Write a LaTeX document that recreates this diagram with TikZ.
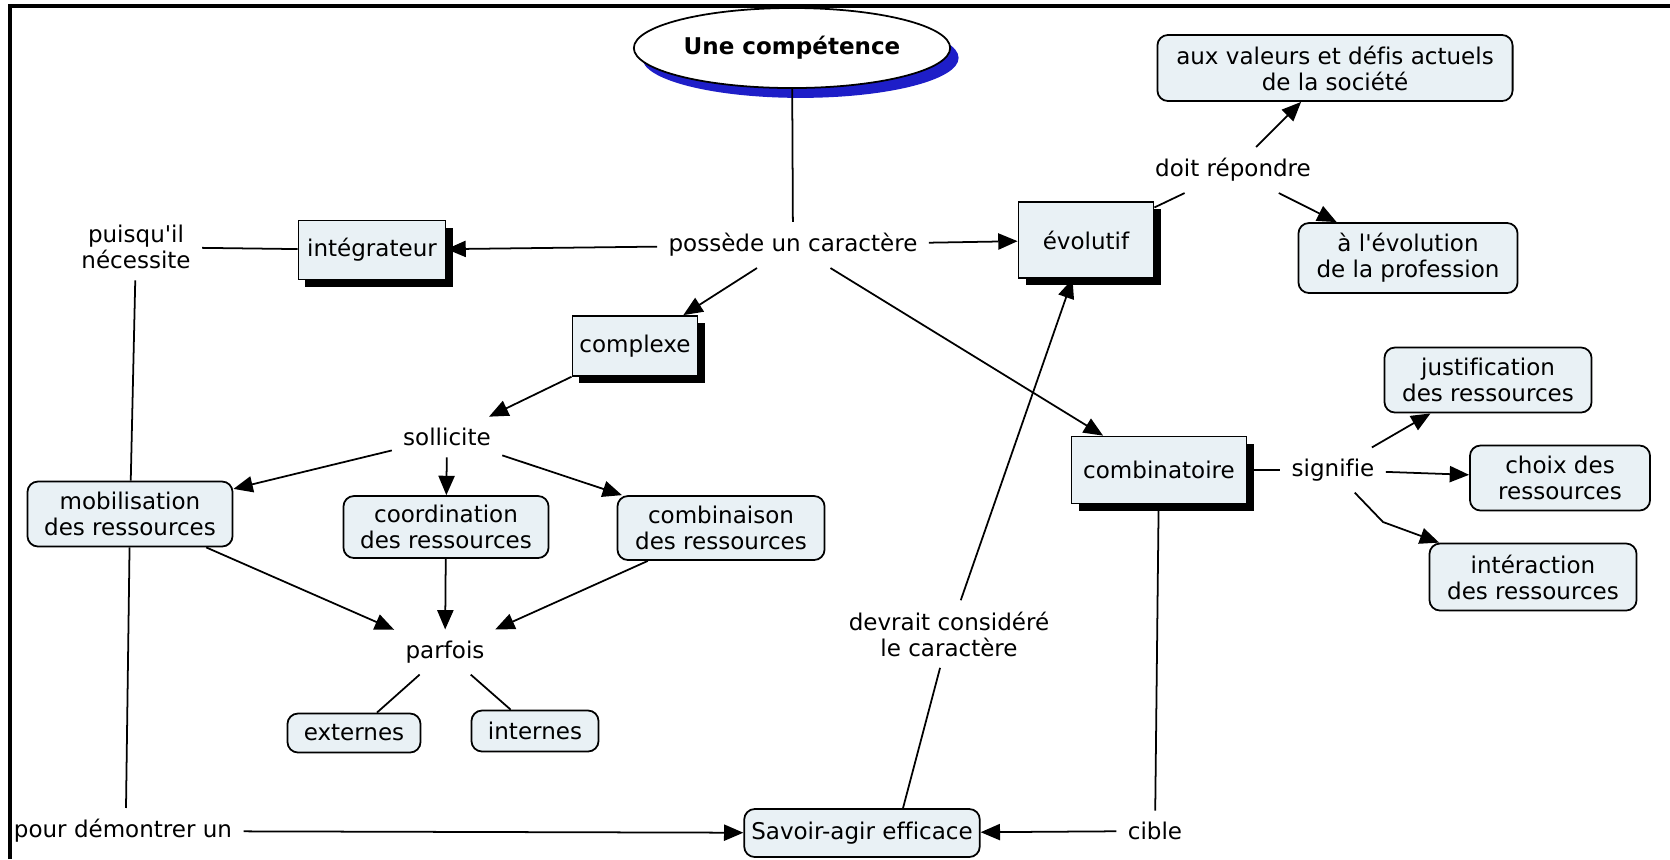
\documentclass[tikz,border=0pt]{standalone}
\usepackage{fontspec}
\setmainfont{DejaVu Sans}[Ligatures={NoCommon}]
\usetikzlibrary{shapes,shadows,arrows.meta,calc}
\definecolor{conceptfill}{RGB}{233,241,245}
\definecolor{shadowblue}{RGB}{30,30,200}

\begin{document}
\begin{tikzpicture}[x=0.01cm,y=-0.01cm,
	font=\fontsize{6.55}{7.4}\selectfont,
	every path/.style={line width=0.5pt},
	link/.style={-{Triangle[length=5.5pt,width=4.6pt]}},
	linklabel/.style={inner sep=3pt, align=center},
	concept/.style={draw, fill=conceptfill, rounded corners=3pt, align=center, inner sep=2pt},
	boxed/.style={draw, fill=conceptfill, align=center, inner sep=2pt,
		drop shadow={shadow xshift=2pt, shadow yshift=-2pt, fill=black, opacity=1}},
	topic/.style={draw, fill=white, shape=ellipse, inner sep=1pt,
		font=\fontsize{6.55}{7.4}\selectfont\bfseries,
		drop shadow={shadow xshift=2.4pt, shadow yshift=-2.8pt, fill=shadowblue, opacity=1}}
]
\useasboundingbox (0,0) rectangle (1670,859);
\draw[line width=0.9pt] (10,859) -- (10,6) -- (1670,6);

% concepts
\node[topic, minimum width=2.53cm, minimum height=0.80cm] (comp) at (792,48) {Une compétence};
\node[boxed, minimum width=1.47cm, minimum height=0.59cm] (integ) at (372,250) {intégrateur};
\node[boxed, minimum width=1.35cm, minimum height=0.76cm] (evol) at (1086,240) {évolutif};
\node[boxed, minimum width=1.19cm, minimum height=0.60cm] (complexe) at (635,346) {complexe};
\node[boxed, minimum width=1.75cm, minimum height=0.67cm] (combina) at (1159,470) {combinatoire};
\node[concept, minimum width=3.55cm, minimum height=0.66cm] (valeurs) at (1335,68) {aux valeurs et défis actuels\\de la société};
\node[concept, minimum width=2.19cm, minimum height=0.70cm] (evolprof) at (1408,258) {à l\textquotesingle évolution\\de la profession};
\node[concept, minimum width=2.05cm, minimum height=0.65cm] (mobil) at (130,514) {mobilisation\\des ressources};
\node[concept, minimum width=2.05cm, minimum height=0.62cm] (coord) at (446,527) {coordination\\des ressources};
\node[concept, minimum width=2.07cm, minimum height=0.64cm] (combin) at (721,528) {combinaison\\des ressources};
\node[concept, minimum width=1.33cm, minimum height=0.39cm] (externes) at (354,733) {externes};
\node[concept, minimum width=1.27cm, minimum height=0.41cm] (internes) at (535,731) {internes};
\node[concept, minimum width=1.91cm, minimum height=0.48cm] (savoir) at (862,833) {Savoir-agir efficace};
\node[concept, minimum width=2.07cm, minimum height=0.65cm] (justif) at (1488,380) {justification\\des ressources};
\node[concept, minimum width=1.80cm, minimum height=0.65cm] (choix) at (1560,478) {choix des\\ressources};
\node[concept, minimum width=2.07cm, minimum height=0.67cm] (interac) at (1533,577) {intéraction\\des ressources};

% link labels
\node[linklabel] (possede) at (793,245) {possède un caractère};
\node[linklabel] (puisq) at (136,247) {puisqu\textquotesingle il\\nécessite};
\node[linklabel] (doit) at (1233,170) {doit répondre};
\node[linklabel] (sollicite) at (447,437) {sollicite};
\node[linklabel] (parfois) at (445,652) {parfois};
\node[linklabel] (pour) at (123,831) {pour démontrer un};
\node[linklabel] (cible) at (1155,831) {cible};
\node[linklabel] (devrait) at (949,634) {devrait considéré\\le caractère};
\node[linklabel] (signifie) at (1333,470) {signifie};
\coordinate (bend) at (1383,522);

% connectors
\draw (comp) -- (possede);
\draw[link] (possede) -- (integ);
\draw[link] (possede) -- (evol);
\draw[link] (possede) -- (complexe);
\draw[link] (possede) -- (combina);
\draw (integ) -- (puisq);
\draw (puisq) -- (mobil);
\draw (evol) -- (doit);
\draw[link] (doit) -- (valeurs);
\draw[link] (doit) -- (evolprof);
\draw[link] (complexe) -- (sollicite);
\draw[link] (sollicite) -- (mobil);
\draw[link] (sollicite) -- (coord);
\draw[link] (sollicite) -- (combin);
\draw[link] (mobil) -- (parfois);
\draw[link] (coord) -- (parfois);
\draw[link] (combin) -- (parfois);
\draw (parfois) -- (externes);
\draw (parfois) -- (internes);
\draw (mobil) -- ($(pour.north)+(3,0)$);
\draw[link] (pour) -- (savoir);
\draw[link] (cible) -- (savoir);
\draw (combina) -- (cible);
\draw ($(savoir.north)+(41,0)$) -- (devrait);
\draw[link] (devrait) -- (evol);
\draw (combina) -- (signifie);
\draw[link] (signifie) -- (justif);
\draw[link] (signifie) -- (choix);
\draw[link] (signifie) -- (bend) -- (interac);
\end{tikzpicture}
\end{document}
